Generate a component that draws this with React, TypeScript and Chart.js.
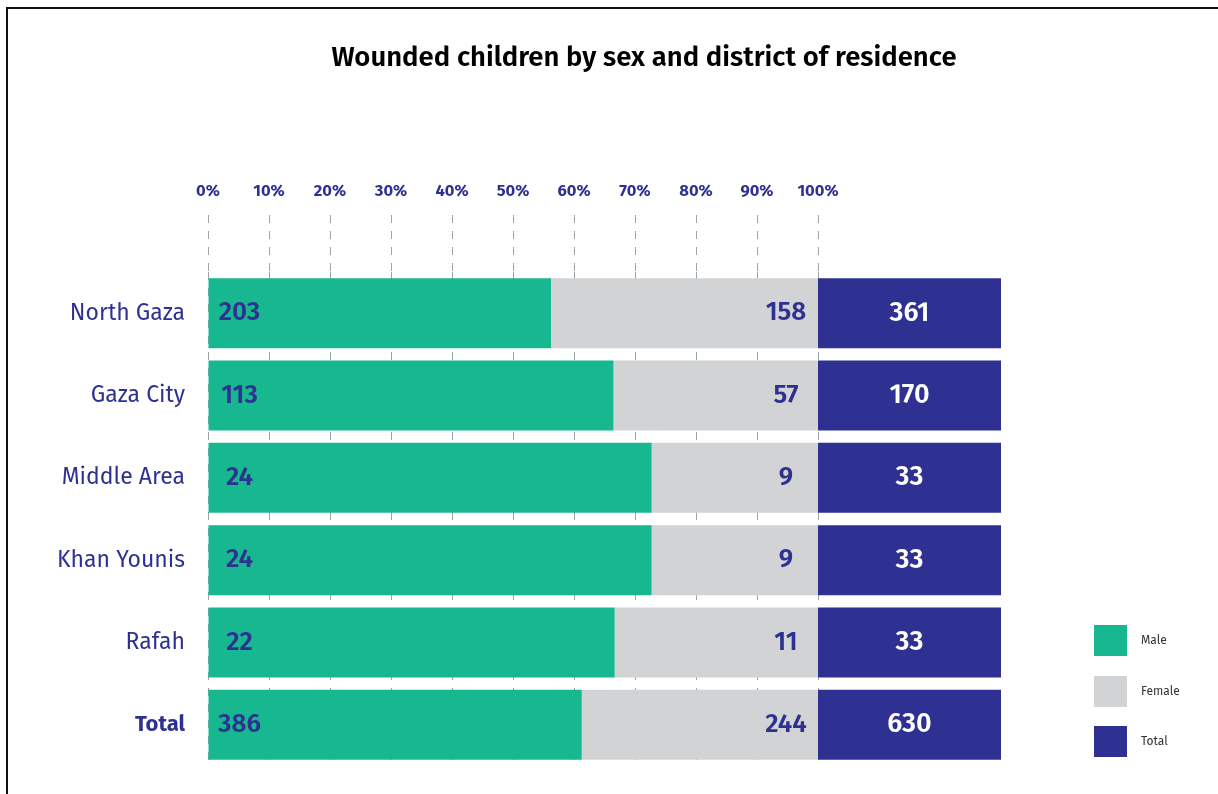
import React, { useEffect, useRef } from "react";
import { Chart, registerables } from "chart.js";

Chart.register(...registerables);

const TITLE = "Wounded children by sex and district of residence";
const districts = ["North Gaza", "Gaza City", "Middle Area", "Khan Younis", "Rafah", "Total"];
const maleCounts = [203, 113, 24, 24, 22, 386];
const femaleCounts = [158, 57, 9, 9, 11, 244];
const totalCounts = [361, 170, 33, 33, 33, 630];
const xTickValues = [0, 10, 20, 30, 40, 50, 60, 70, 80, 90, 100];
const TOTAL_BAR_SPAN = 30; // width (in % units) of the "Total" block drawn after 100%

const NAVY = "#2e3192";
const GREEN = "#17b78f";
const GREY = "#d1d3d4";
const GRID = "#9aa2aa";
const FONT = "'Fira Sans', 'Open Sans', 'Noto Sans', sans-serif";

const W = 1210;
const H = 785;

export default function App() {
  const ref = useRef<HTMLCanvasElement | null>(null);

  useEffect(() => {
    if (!ref.current) return;
    const malePct = maleCounts.map((m, i) => (m / totalCounts[i]) * 100);
    const femalePct = femaleCounts.map((f, i) => (f / totalCounts[i]) * 100);
    const totalSpan = totalCounts.map(() => TOTAL_BAR_SPAN);
    const countsByDataset = [maleCounts, femaleCounts, totalCounts];

    const labelsPlugin = {
      id: "barLabels",
      afterDatasetsDraw(chart: any) {
        const ctx = chart.ctx;
        ctx.save();
        ctx.textBaseline = "middle";
        ctx.textAlign = "center";
        chart.data.datasets.forEach((ds: any, di: number) => {
          const meta = chart.getDatasetMeta(di);
          meta.data.forEach((el: any, i: number) => {
            const txt = String(countsByDataset[di][i]);
            const left = Math.min(el.x, el.base);
            const right = Math.max(el.x, el.base);
            let x = (left + right) / 2;
            if (di === 0) x = left + 31;
            if (di === 1) x = right - 32;
            ctx.fillStyle = di === 2 ? "#ffffff" : NAVY;
            ctx.font = `600 ${di === 2 ? 27 : 26}px ${FONT}`;
            ctx.fillText(txt, x, el.y);
          });
        });
        ctx.restore();
      },
    };

    const decorPlugin = {
      id: "decor",
      afterDraw(chart: any) {
        const ctx = chart.ctx;
        ctx.save();
        ctx.fillStyle = "#000000";
        ctx.font = `600 27.5px ${FONT}`;
        ctx.textAlign = "center";
        ctx.textBaseline = "middle";
        ctx.fillText(TITLE, 636, 49);
        const lx = 1086;
        const ly = [616, 667, 717];
        chart.data.datasets.forEach((ds: any, di: number) => {
          ctx.fillStyle = ds.backgroundColor;
          ctx.fillRect(lx, ly[di], 33, 31);
          ctx.fillStyle = "#333333";
          ctx.font = `12px ${FONT}`;
          ctx.textAlign = "left";
          ctx.fillText(ds.label, lx + 47, ly[di] + 16);
        });
        ctx.restore();
      },
    };

    const chart = new Chart(ref.current, {
      type: "bar",
      data: {
        labels: districts,
        datasets: [
          { label: "Male", data: malePct, backgroundColor: GREEN },
          { label: "Female", data: femalePct, backgroundColor: GREY },
          { label: "Total", data: totalSpan, backgroundColor: NAVY },
        ],
      },
      options: {
        indexAxis: "y",
        responsive: false,
        animation: false,
        devicePixelRatio: 1,
        datasets: { bar: { barPercentage: 0.85, categoryPercentage: 1 } } as any,
        layout: { padding: { top: 150, left: 0, right: W - 993, bottom: H - 757 } },
        plugins: { legend: { display: false }, tooltip: { enabled: false }, title: { display: false } },
        scales: {
          x: {
            type: "linear",
            position: "top",
            stacked: true,
            min: 0,
            max: 100 + TOTAL_BAR_SPAN,
            z: 1,
            afterFit: (s: any) => {
              s.height = 113;
              s.paddingLeft = 0;
              s.paddingRight = 0;
            },
            afterBuildTicks: (s: any) => {
              s.ticks = xTickValues.map((v) => ({ value: v }));
            },
            ticks: {
              padding: 14,
              color: NAVY,
              font: { family: FONT, size: 16.5, weight: "bold" },
              callback: (v: any) => `${v}%`,
              maxRotation: 0,
              autoSkip: false,
            },
            grid: {
              color: GRID,
              lineWidth: 1,
              tickLength: 57,
              tickBorderDash: [8, 8],
              drawOnChartArea: true,
            },
            border: { display: false, dash: [8, 8] },
          },
          y: {
            type: "category",
            stacked: true,
            afterFit: (s: any) => {
              s.width = 200;
              s.paddingTop = 0;
              s.paddingBottom = 0;
            },
            ticks: {
              padding: 23,
              color: NAVY,
              font: (c: any) => ({
                family: FONT,
                size: c.index === districts.length - 1 ? 22 : 23,
                weight: c.index === districts.length - 1 ? "bold" : "normal",
              }),
            },
            grid: { display: false, drawTicks: false },
            border: { display: false },
          },
        },
      },
      plugins: [labelsPlugin, decorPlugin],
    });
    return () => chart.destroy();
  }, []);

  return (
    <div
      style={{
        position: "absolute",
        left: 6,
        top: 7,
        width: W,
        height: H,
        borderTop: "2px solid #111",
        borderLeft: "2px solid #111",
        background: "#fff",
      }}
    >
      <canvas ref={ref} width={W} height={H} style={{ display: "block", width: W, height: H }} />
    </div>
  );
}
